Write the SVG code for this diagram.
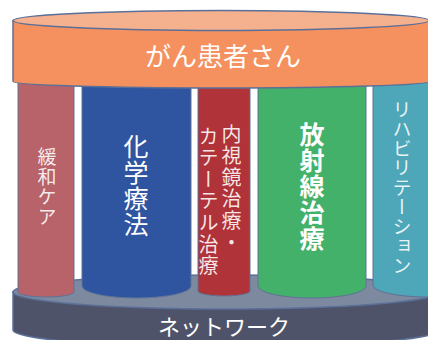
<svg xmlns="http://www.w3.org/2000/svg" width="428" height="340" viewBox="0 0 428 340">
<style>
.t{font-family:"Noto Sans CJK JP","Noto Sans CJK SC",sans-serif;fill:#fff}
.v{writing-mode:vertical-rl;text-orientation:mixed}
.edge{stroke:#5B7098;stroke-width:1.5}
.pl{stroke:#5E7396;stroke-width:1}
</style>
<g id="base">
<path class="edge" d="M13,292 V330 A213,17 0 0 0 439,330 V292 Z" fill="#4F5369"/>
<ellipse class="edge" cx="226" cy="292" rx="213" ry="17" fill="#7D899F"/>
<text class="t" x="224" y="335" font-size="22" text-anchor="middle">ネットワーク</text>
</g>
<g id="kanwa">
<path class="pl" d="M18,75 V292 A28,5 0 0 0 74,292 V75 Z" fill="#B8636A"/>
<text class="t v" x="47" y="147" font-size="19" letter-spacing="1" fill-opacity="0.88">緩和ケア</text>
</g>
<g id="kagaku">
<path class="pl" d="M82,75 V286 A54.5,12 0 0 0 191,286 V75 Z" fill="#2F55A1"/>
<text class="t v" x="136" y="134" font-size="25" letter-spacing="1">化学療法</text>
</g>
<g id="naishikyo">
<path class="pl" d="M198,75 V291 A26,5 0 0 0 250,291 V75 Z" fill="#B03339"/>
<text class="t v" x="231.5" y="124" font-size="20" letter-spacing="1.6" fill-opacity="0.88">内視鏡治療・</text>
<text class="t v" x="208.5" y="126" font-size="20" letter-spacing="1.6" fill-opacity="0.88">カテーテル治療</text>
</g>
<g id="hoshasen">
<path class="pl" d="M258,75 V286 A54,12 0 0 0 366,286 V75 Z" fill="#44B16A"/>
<text class="t v" x="312" y="122" font-size="25" font-weight="bold" letter-spacing="1">放射線治療</text>
</g>
<g id="reha">
<path class="pl" d="M373,75 V285 A54,12 0 0 0 481,285 V75 Z" fill="#4EA6B9"/>
<text class="t v" x="402" y="100" font-size="19" letter-spacing="0.5" fill-opacity="0.88">リハビリテーション</text>
</g>
<g id="patient">
<path class="edge" d="M13,20.5 V81.5 A208,6.5 0 0 0 429,81.5 V20.5 Z" fill="#F5905F"/>
<ellipse class="edge" cx="221" cy="20.5" rx="208" ry="10" fill="#F5B08E"/>
<text class="t" x="223" y="66" font-size="26" text-anchor="middle">がん患者さん</text>
</g>
<g id="connectors"/>
</svg>
